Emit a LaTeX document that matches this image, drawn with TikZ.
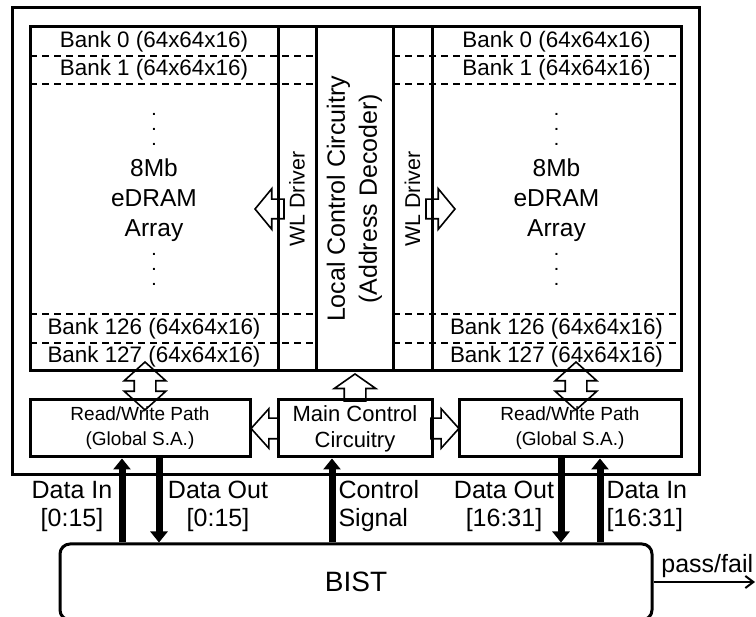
\documentclass[tikz,border=0pt]{standalone}
\usepackage{fontspec}
\setmainfont{Liberation Sans}
\usepackage{tikz}
\usetikzlibrary{shapes.arrows}
\usetikzlibrary{arrows.meta}
\usetikzlibrary{positioning}

\begin{document}
\begin{tikzpicture}[
    x=1pt, y=-1pt,
    box/.style={draw, line width=3pt, inner sep=0pt},
    bank line/.style={dash pattern=on 7pt off 5pt, line width=1.5pt},
    bank label/.style={font=\fontsize{22.4}{26}\selectfont},
    vdots/.style={font=\fontsize{14}{15}\selectfont\bfseries, align=center, inner sep=0pt},
    bus/.style={line width=7pt, -{Triangle[length=11pt, width=17pt]}},
    hollow single/.style={single arrow, draw, line width=1.6pt, inner xsep=0pt,
      minimum width=0pt, anchor=tip},
    hollow double/.style={double arrow, draw, line width=1.6pt, inner xsep=0pt,
      minimum width=0pt},
    sig label/.style={font=\fontsize{25}{28}\selectfont, align=center},
  ]
  \useasboundingbox (0,0) rectangle (756,617);
  \clip (0,0) rectangle (756,617);

  % chip frame and array columns
  \node[box, minimum width=687pt, minimum height=467pt] (chip) at (355.5,241.5) {};
  \node[box, minimum width=248pt, minimum height=344pt] (arrL) at (154,199) {};
  \node[box, rotate=90, minimum width=344pt, minimum height=38pt,
        font=\fontsize{21.4}{24}\selectfont] (wlL) at (297,199) {WL Driver};
  \node[box, rotate=90, minimum width=344pt, minimum height=77pt, align=center,
        font=\fontsize{25}{32}\selectfont] (lcc) at (354.5,199)
        {Local Control Circuitry\\(Address Decoder)};
  \node[box, rotate=90, minimum width=344pt, minimum height=39pt,
        font=\fontsize{21.4}{24}\selectfont] (wlR) at (412.5,199) {WL Driver};
  \node[box, minimum width=249pt, minimum height=344pt] (arrR) at (556.5,199) {};

  % bank boundaries
  \foreach \yy in {56,84,314,343} {
    \draw[bank line] (30,\yy) -- (316,\yy);
    \draw[bank line] (393,\yy) -- (681,\yy);
  }

  \node[bank label] (b0L)   at (154,41.5) {Bank 0 (64x64x16)};
  \node[bank label] (b1L)   at (154,70)   {Bank 1 (64x64x16)};
  \node[bank label] (b126L) at (154,328.5){Bank 126 (64x64x16)};
  \node[bank label] (b127L) at (154,357)  {Bank 127 (64x64x16)};
  \node[bank label] (b0R)   at (556.5,41.5) {Bank 0 (64x64x16)};
  \node[bank label] (b1R)   at (556.5,70)   {Bank 1 (64x64x16)};
  \node[bank label] (b126R) at (556.5,328.5){Bank 126 (64x64x16)};
  \node[bank label] (b127R) at (556.5,357)  {Bank 127 (64x64x16)};

  \node[vdots] (dotsaL) at (154,129) {.\\.\\.};
  \node[font=\fontsize{24.5}{30}\selectfont, align=center] (memL) at (154,200) {8Mb\\eDRAM\\Array};
  \node[vdots] (dotsbL) at (154,269) {.\\.\\.};
  \node[vdots] (dotsaR) at (556.5,129) {.\\.\\.};
  \node[font=\fontsize{24.5}{30}\selectfont, align=center] (memR) at (556.5,200) {8Mb\\eDRAM\\Array};
  \node[vdots] (dotsbR) at (556.5,269) {.\\.\\.};

  % periphery
  \node[box, minimum width=220pt, minimum height=57pt, align=center,
        font=\fontsize{19}{25}\selectfont] (rwL) at (140,428.5) {Read/Write Path\\(Global S.A.)};
  \node[box, minimum width=154pt, minimum height=57pt, align=center,
        font=\fontsize{22}{26}\selectfont] (mcc) at (355,428.5) {Main Control\\Circuitry};
  \node[box, minimum width=222pt, minimum height=57pt, align=center,
        font=\fontsize{19}{25}\selectfont] (rwR) at (570,428.5) {Read/Write Path\\(Global S.A.)};
  \node[box, rounded corners=10pt, minimum width=592pt, minimum height=76pt,
        font=\fontsize{28}{32}\selectfont] (bist) at (356,582) {BIST};

  % hollow block arrows
  \node[hollow single, rotate=180, inner ysep=9pt, single arrow head extend=10.5pt,
        single arrow tip angle=101, minimum height=29pt] (wlarrL) at (254,209) {};
  \node[hollow single, inner ysep=9pt, single arrow head extend=10.5pt,
        single arrow tip angle=101, minimum height=29pt] (wlarrR) at (456,209) {};
  \node[hollow single, rotate=90, inner ysep=10pt, single arrow head extend=10pt,
        single arrow tip angle=110, minimum height=27pt] (ctlarr) at (355,373) {};
  \node[hollow single, rotate=180, inner ysep=9.5pt, single arrow head extend=9.5pt,
        single arrow tip angle=96, minimum height=28pt] (mcarrL) at (250,428.5) {};
  \node[hollow single, inner ysep=9.5pt, single arrow head extend=9.5pt,
        single arrow tip angle=96, minimum height=28pt] (mcarrR) at (460,428.5) {};
  \node[hollow double, rotate=90, inner ysep=10pt, double arrow head extend=10pt,
        double arrow tip angle=96, minimum height=48pt] (rwarrL) at (145,386) {};
  \node[hollow double, rotate=90, inner ysep=10pt, double arrow head extend=10pt,
        double arrow tip angle=96, minimum height=48pt] (rwarrR) at (576,386) {};

  % BIST buses
  \coordinate (xdi0) at (122,0);
  \coordinate (xdo0) at (159,0);
  \coordinate (xctl) at (332,0);
  \coordinate (xdo1) at (561,0);
  \coordinate (xdi1) at (600,0);
  \draw[bus] (bist.north -| xdi0) -- (rwL.south -| xdi0);
  \draw[bus] (rwL.south -| xdo0) -- (bist.north -| xdo0);
  \draw[bus] (bist.north -| xctl) -- (mcc.south -| xctl);
  \draw[bus] (rwR.south -| xdo1) -- (bist.north -| xdo1);
  \draw[bus] (bist.north -| xdi1) -- (rwR.south -| xdi1);

  \node[sig label] (ldi0) at (72,506) {Data In\\{[0:15]}};
  \node[sig label] (ldo0) at (218,506) {Data Out\\{[0:15]}};
  \node[sig label, align=left, anchor=west] (lctl) at (335,506) {Control\\Signal};
  \node[sig label] (ldo1) at (504,506) {Data Out\\{[16:31]}};
  \node[sig label, align=left, anchor=west] (ldi1) at (603,506) {Data In\\{[16:31]}};

  \coordinate (pf) at (755,582);
  \draw[line width=2pt, -{Straight Barb[length=8pt, width=12pt]}] (bist.east) --
    node[above, pos=0.53, font=\fontsize{25}{28}\selectfont] (lpf) {pass/fail} (pf);
\end{tikzpicture}
\end{document}
